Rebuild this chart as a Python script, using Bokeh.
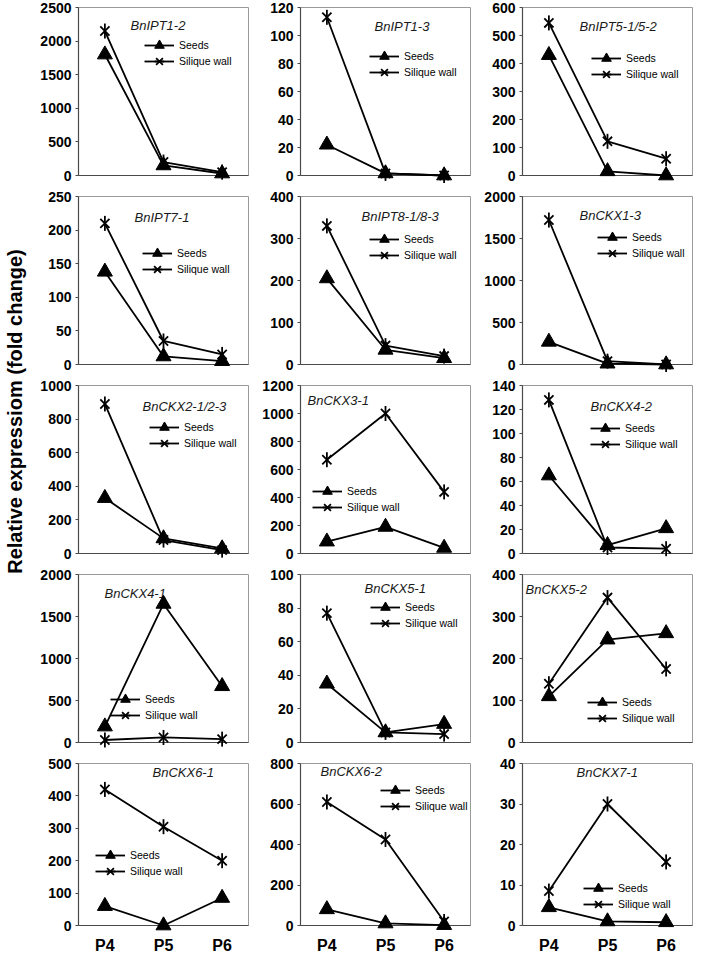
from math import pi
from bokeh.plotting import figure
from bokeh.layouts import row, column
from bokeh.models import Range1d, FixedTicker, Label, Legend, LegendItem
from bokeh.embed import file_html
from bokeh.resources import INLINE

# ---------------- data ----------------
stages = ["P4", "P5", "P6"]
genes = ["BnIPT1-2", "BnIPT1-3", "BnIPT5-1/5-2",
         "BnIPT7-1", "BnIPT8-1/8-3", "BnCKX1-3",
         "BnCKX2-1/2-3", "BnCKX3-1", "BnCKX4-2",
         "BnCKX4-1", "BnCKX5-1", "BnCKX5-2",
         "BnCKX6-1", "BnCKX6-2", "BnCKX7-1"]

seeds_ipt1_2 = [1800, 150, 30]
wall_ipt1_2 = [2150, 200, 50]
seeds_ipt1_3 = [22, 1.5, 0]
wall_ipt1_3 = [113, 1.5, 0]
seeds_ipt5 = [430, 15, 0]
wall_ipt5 = [545, 122, 60]
seeds_ipt7_1 = [138, 12, 5]
wall_ipt7_1 = [210, 35, 15]
seeds_ipt8 = [205, 35, 15]
wall_ipt8 = [330, 45, 20]
seeds_ckx1_3 = [270, 10, 0]
wall_ckx1_3 = [1720, 40, 0]
seeds_ckx2 = [330, 90, 30]
wall_ckx2 = [890, 80, 20]
seeds_ckx3_1 = [85, 190, 40]
wall_ckx3_1 = [670, 1000, 440]
seeds_ckx4_2 = [65, 7, 21]
wall_ckx4_2 = [128, 5, 4]
seeds_ckx4_1 = [190, 1650, 670]
wall_ckx4_1 = [30, 60, 40]
seeds_ckx5_1 = [35, 6, 11]
wall_ckx5_1 = [77, 6, 5]
seeds_ckx5_2 = [110, 245, 260]
wall_ckx5_2 = [140, 345, 175]
seeds_ckx6_1 = [60, 0, 85]
wall_ckx6_1 = [420, 305, 200]
seeds_ckx6_2 = [80, 10, 2]
wall_ckx6_2 = [610, 425, 20]
seeds_ckx7_1 = [4.5, 1.0, 0.8]
wall_ckx7_1 = [8.5, 30, 15.7]

seeds_series = [seeds_ipt1_2, seeds_ipt1_3, seeds_ipt5, seeds_ipt7_1, seeds_ipt8,
                seeds_ckx1_3, seeds_ckx2, seeds_ckx3_1, seeds_ckx4_2, seeds_ckx4_1,
                seeds_ckx5_1, seeds_ckx5_2, seeds_ckx6_1, seeds_ckx6_2, seeds_ckx7_1]
wall_series = [wall_ipt1_2, wall_ipt1_3, wall_ipt5, wall_ipt7_1, wall_ipt8,
               wall_ckx1_3, wall_ckx2, wall_ckx3_1, wall_ckx4_2, wall_ckx4_1,
               wall_ckx5_1, wall_ckx5_2, wall_ckx6_1, wall_ckx6_2, wall_ckx7_1]

y_max = [2500, 120, 600, 250, 400, 2000, 1000, 1200, 140, 2000, 100, 400, 500, 800, 40]
y_step = [500, 20, 100, 50, 100, 500, 200, 200, 20, 500, 20, 100, 100, 200, 10]

series_names = ["Seeds", "Silique wall"]
y_title = "Relative expressiom (fold change)"

# ---------------- layout / style ----------------
FONT = "Liberation Sans"
W, LB, RB = 222, 47, 5
H_ROW, TB, BB = 189, 7, 14
H_LAST, BB_LAST = 200, 25
FRAME_H = 168
ROW_GAP = 16
GLYPH_H = 24

# (title x, title y) and (legend glyph x, first legend row y), from frame top-left
title_pos = [(52, 18), (74, 19), (57, 19), (56, 21), (61, 20), (57, 19),
             (64, 21), (7, 15), (68, 21), (26, 19), (64, 14), (3, 15),
             (74, 15), (20, 14), (54, 15)]
legend_pos = [(66, 38), (69, 49), (69, 51), (64, 57), (69, 43), (75, 41),
              (71, 42), (12, 106), (68, 43), (32, 125), (70, 33), (65, 128),
              (17, 98), (80, 33), (61, 131)]


def legend_for(label, renderers, gx, row_y):
    return Legend(items=[LegendItem(label=label, renderers=renderers)],
                  location=(gx, FRAME_H - (row_y + GLYPH_H / 2)),
                  glyph_width=30, glyph_height=GLYPH_H, label_height=GLYPH_H,
                  padding=0, margin=0, border_line_color=None, background_fill_alpha=0,
                  label_text_font=FONT, label_text_font_size="10.5px", label_standoff=5,
                  label_text_color="black")


def make_panel(i):
    r = i // 3
    last = r == 4
    h = H_LAST if last else H_ROW
    p = figure(width=W, height=h, output_backend="svg", toolbar_location=None, tools="",
               x_range=Range1d(-0.45, len(stages) - 0.55), y_range=Range1d(0, y_max[i]),
               min_border_left=LB, min_border_right=RB, min_border_top=TB,
               min_border_bottom=BB_LAST if last else BB)
    p.grid.visible = False
    p.background_fill_color = "white"
    p.border_fill_color = "white"
    p.outline_line_color = "#9a9a9a"
    p.outline_line_width = 1

    # y axis
    ya = p.yaxis[0]
    ya.ticker = FixedTicker(ticks=list(range(0, y_max[i] + 1, y_step[i])))
    ya.axis_line_color = "#4a4a4a"
    ya.axis_line_width = 1.2
    ya.major_tick_out = 3
    ya.major_tick_in = 0
    ya.major_tick_line_color = "#4a4a4a"
    ya.minor_tick_line_color = None
    ya.major_label_text_font = FONT
    ya.major_label_text_font_style = "bold"
    ya.major_label_text_font_size = "14px"
    ya.major_label_text_color = "black"
    ya.major_label_standoff = 4

    # x axis
    xa = p.xaxis[0]
    xs = list(range(len(stages)))
    xa.axis_line_color = "#4a4a4a"
    xa.axis_line_width = 1.2
    xa.major_tick_line_color = None
    xa.minor_tick_line_color = None
    if last:
        xa.ticker = FixedTicker(ticks=xs)
        xa.major_label_overrides = {k: s for k, s in zip(xs, stages)}
        xa.major_label_text_font = FONT
        xa.major_label_text_font_style = "bold"
        xa.major_label_text_font_size = "16px"
        xa.major_label_text_color = "black"
        xa.major_label_standoff = 5
    else:
        xa.ticker = FixedTicker(ticks=[])
        xa.major_label_standoff = 0

    s = seeds_series[i]
    w = wall_series[i]
    l1 = p.line(xs, s, line_color="black", line_width=1.8)
    m1 = p.scatter(xs, s, marker="triangle", size=15, fill_color="black", line_color="black")
    l2 = p.line(xs, w, line_color="black", line_width=1.8)
    m2 = p.scatter(xs, w, marker="x", size=13, line_color="black", line_width=1.8)
    m3 = p.scatter(xs, w, marker="dash", angle=pi / 2, size=15, line_color="black", line_width=1.8)
    for rr in (l1, m1, l2, m2, m3):
        rr.level = "overlay"

    tx, ty = title_pos[i]
    p.add_layout(Label(x=tx, y=FRAME_H - ty, x_units="screen", y_units="screen",
                       text=genes[i], text_font=FONT, text_font_style="italic",
                       text_font_size="13px", text_color="#1a1a1a",
                       text_align="left", text_baseline="middle"))

    gx, gy = legend_pos[i]
    p.add_layout(legend_for(series_names[0], [l1, m1], gx, gy))
    p.add_layout(legend_for(series_names[1], [l2, m2, m3], gx, gy + ROW_GAP))
    return p


panels = [make_panel(i) for i in range(len(genes))]

TOTAL_H = 4 * H_ROW + H_LAST
lab = figure(width=31, height=TOTAL_H, output_backend="svg", toolbar_location=None, tools="",
             x_range=Range1d(0, 1), y_range=Range1d(0, 1), min_border=0,
             x_axis_location=None, y_axis_location=None)
lab.grid.visible = False
lab.outline_line_color = None
lab.add_layout(Label(x=14, y=TOTAL_H - 411, x_units="screen", y_units="screen",
                     text=y_title, angle=pi / 2, text_align="center", text_baseline="middle",
                     text_font=FONT, text_font_style="bold", text_font_size="20px",
                     text_color="black"))

grid = column(*[row(*panels[r * 3:(r + 1) * 3]) for r in range(5)])
layout = row(lab, grid)

open("out.html", "w").write(file_html(layout, INLINE))
